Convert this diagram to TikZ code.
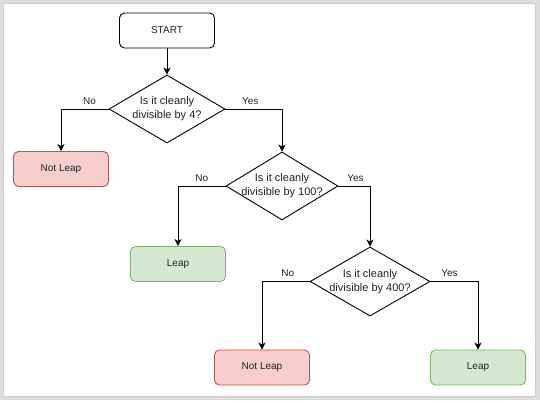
\documentclass[tikz,border=0pt]{standalone}
\usepackage{fontspec}
\setmainfont{Liberation Sans}
\usetikzlibrary{shapes.geometric,arrows.meta}
\definecolor{redfill}{HTML}{F8CECC}
\definecolor{redline}{HTML}{B85450}
\definecolor{greenfill}{HTML}{D5E8D4}
\definecolor{greenline}{HTML}{82B366}
\definecolor{framecol}{HTML}{DCDCDC}
\definecolor{framedge}{HTML}{CFCFCF}
\definecolor{txt}{HTML}{222222}
\begin{document}
\begin{tikzpicture}[x=1pt,y=-1pt,
  every node/.style={font=\fontsize{10}{13.5}\selectfont, text=txt},
  box/.style={draw, rounded corners=5pt, minimum width=95pt, minimum height=35pt, inner sep=0pt, line width=0.9pt},
  startbox/.style={box, fill=white, draw=black},
  redbox/.style={box, fill=redfill, draw=redline},
  greenbox/.style={box, fill=greenfill, draw=greenline},
  dia/.style={diamond, draw=black, fill=white, inner sep=0pt, line width=0.9pt},
  diatext/.style={align=center, font=\fontsize{11}{14}\selectfont},
  arr/.style={draw=black, line width=0.9pt, -{Stealth[length=7pt,width=7pt,inset=2pt]}},
  lbl/.style={anchor=base, yshift=5pt, inner sep=0pt}
]
\useasboundingbox (0,0) rectangle (540,400);
\fill[framecol] (0,0) rectangle (540,400);
\fill[white, draw=framedge, line width=0.6pt] (3,3) rectangle (535,396);

\node[startbox] (start) at (167,30.5) {START};
\node[dia, minimum width=116pt, minimum height=68pt,
  label={[diatext]center:Is it cleanly\\divisible by 4?}] (d1) at (167,109) {};
\node[redbox] (nl1) at (61,169) {Not Leap};
\node[dia, minimum width=112pt, minimum height=68pt,
  label={[diatext]center:Is it cleanly\\divisible by 100?}] (d2) at (282,186) {};
\node[greenbox] (leap1) at (178,264) {Leap};
\node[dia, minimum width=120pt, minimum height=69pt,
  label={[diatext]center:Is it cleanly\\divisible by 400?}] (d3) at (370,281.5) {};
\node[redbox] (nl2) at (262,367.5) {Not Leap};
\node[greenbox] (leap2) at (478,367.5) {Leap};

\draw[arr] (start.south) -- (d1.north);
\draw[arr] (d1.west) -| node[lbl, pos=0.2] (n1) {No} (nl1.north);
\draw[arr] (d1.east) -| node[lbl, pos=0.22] (y1) {Yes} (d2.north);
\draw[arr] (d2.west) -| node[lbl, pos=0.25] (n2) {No} (leap1.north);
\draw[arr] (d2.east) -| node[lbl, pos=0.27] (y2) {Yes} (d3.north);
\draw[arr] (d3.west) -| node[lbl, pos=0.23] (n3) {No} (nl2.north);
\draw[arr] (d3.east) -| node[lbl, pos=0.2] (y3) {Yes} (leap2.north);
\end{tikzpicture}
\end{document}
